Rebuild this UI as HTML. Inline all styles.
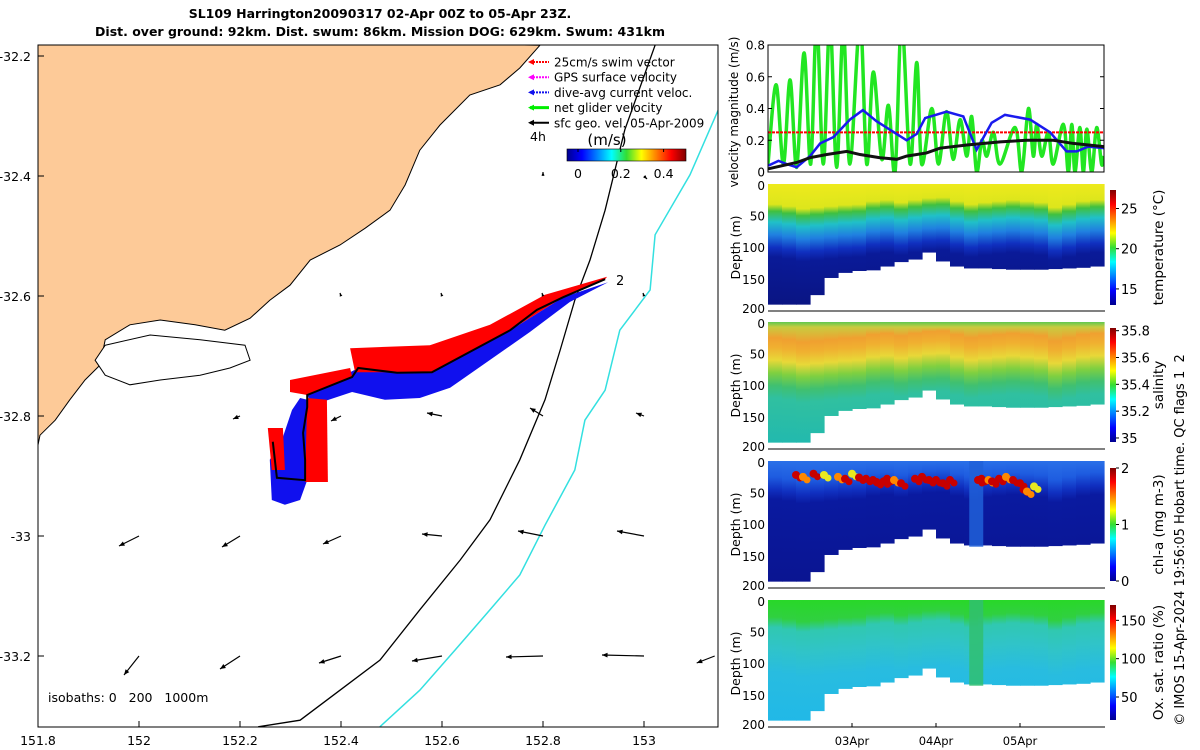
<!DOCTYPE html>
<html><head><meta charset="utf-8"><style>
body{margin:0;background:#fff;}
svg{display:block;font-family:"DejaVu Sans","Liberation Sans",sans-serif;}
</style></head><body>
<svg id="fig" width="1200" height="750" viewBox="0 0 1200 750" xmlns="http://www.w3.org/2000/svg">
<defs>
<linearGradient id="jet" x1="0" y1="1" x2="0" y2="0">
<stop offset="0" stop-color="#00008f"/><stop offset="0.125" stop-color="#0000ff"/><stop offset="0.375" stop-color="#00ffff"/><stop offset="0.5" stop-color="#33dd33"/><stop offset="0.625" stop-color="#ffff00"/><stop offset="0.875" stop-color="#ff0000"/><stop offset="1" stop-color="#800000"/>
</linearGradient>
<linearGradient id="jeth" x1="0" y1="0" x2="1" y2="0">
<stop offset="0" stop-color="#00008f"/><stop offset="0.125" stop-color="#0000ff"/><stop offset="0.375" stop-color="#00ffff"/><stop offset="0.5" stop-color="#33dd33"/><stop offset="0.625" stop-color="#ffff00"/><stop offset="0.875" stop-color="#ff0000"/><stop offset="1" stop-color="#800000"/>
</linearGradient>
<clipPath id="mapclip"><rect x="38" y="45" width="680" height="682"/></clipPath>
<clipPath id="velclip"><rect x="768" y="45" width="336" height="127"/></clipPath>
</defs>
<text x="380" y="18" text-anchor="middle" font-size="12.5" font-weight="bold">SL109 Harrington20090317 02-Apr 00Z to 05-Apr 23Z.</text>
<text x="380" y="36" text-anchor="middle" font-size="12.5" font-weight="bold">Dist. over ground: 92km. Dist. swum: 86km. Mission DOG: 629km. Swum: 431km</text>
<g id="map"></g>
<g id="vel"></g>
<g id="sections"></g>
<text transform="translate(1184,540) rotate(-90)" text-anchor="middle" font-size="13" style="white-space:pre">© IMOS 15-Apr-2024 19:56:05 Hobart time. QC flags 1  2</text>
</svg>
<script>
// ---------- map data ----------
const coastLon=[152.794,152.754,152.715,152.655,152.596,152.556,152.527,152.497,152.448,152.398,152.339,152.299,152.259,152.220,152.170,152.111,152.042,151.982,151.933,151.923,151.893,151.863,151.834,151.804,151.79,151.79];
const coastLat=[-32.182,-32.220,-32.248,-32.265,-32.315,-32.357,-32.415,-32.457,-32.487,-32.515,-32.540,-32.582,-32.607,-32.637,-32.657,-32.648,-32.640,-32.648,-32.673,-32.715,-32.740,-32.773,-32.807,-32.832,-32.89,-32.17];
const estLon=[151.933,152.022,152.121,152.210,152.220,152.180,152.121,152.042,151.982,151.933,151.913];
const estLat=[-32.682,-32.665,-32.673,-32.682,-32.707,-32.720,-32.732,-32.740,-32.748,-32.732,-32.707];
const iso200Lon=[153.022,152.962,152.923,152.893,152.863,152.834,152.804,152.754,152.695,152.636,152.556,152.477,152.398,152.319,152.236];
const iso200Lat=[-32.182,-32.323,-32.457,-32.540,-32.607,-32.690,-32.773,-32.873,-32.973,-33.040,-33.123,-33.207,-33.257,-33.307,-33.318];
const iso1000Lon=[153.147,153.091,153.022,153.012,152.952,152.923,152.883,152.863,152.804,152.754,152.695,152.626,152.556,152.477];
const iso1000Lat=[-32.29,-32.398,-32.498,-32.59,-32.657,-32.757,-32.807,-32.89,-32.982,-33.065,-33.123,-33.19,-33.257,-33.318];
const trackLon=[152.923,152.840,152.788,152.735,152.580,152.511,152.434,152.422,152.333,152.333,152.325,152.329,152.329,152.273,152.265];
const trackLat=[-32.572,-32.602,-32.623,-32.657,-32.727,-32.728,-32.720,-32.735,-32.765,-32.785,-32.828,-32.873,-32.907,-32.903,-32.843];
const blueA_lon=[152.929,152.840,152.735,152.580,152.434,152.333,152.343,152.422,152.487,152.556,152.616,152.774,152.853];
const blueA_lat=[-32.577,-32.602,-32.657,-32.727,-32.720,-32.765,-32.782,-32.760,-32.773,-32.770,-32.753,-32.660,-32.610];
const blueB_lon=[152.319,152.333,152.333,152.319,152.289,152.263,152.259,152.283,152.303];
const blueB_lat=[-32.770,-32.773,-32.907,-32.940,-32.948,-32.940,-32.873,-32.840,-32.790];
const redA_lon=[152.927,152.804,152.695,152.576,152.418,152.428,152.580,152.735,152.840,152.923];
const redA_lat=[-32.568,-32.598,-32.648,-32.682,-32.687,-32.727,-32.727,-32.657,-32.602,-32.572];
const redB_lon=[152.299,152.418,152.422,152.333,152.299];
const redB_lat=[-32.740,-32.720,-32.735,-32.765,-32.760];
const redC_lon=[152.333,152.372,152.374,152.329];
const redC_lat=[-32.770,-32.773,-32.910,-32.910];
const redD_lon=[152.255,152.285,152.289,152.263];
const redD_lat=[-32.820,-32.820,-32.890,-32.890];
// surface geostrophic velocity vectors (m/s)
const vecLon=[152.0,152.2,152.4,152.6,152.8,153.0,153.14, 152.0,152.2,152.4,152.6,152.8,153.0, 152.2,152.4,152.6,152.8,153.0, 152.4,152.6,152.8,153.0, 152.8,153.0];
const vecLat=[-33.2,-33.2,-33.2,-33.2,-33.2,-33.2,-33.2, -33.0,-33.0,-33.0,-33.0,-33.0,-33.0, -32.8,-32.8,-32.8,-32.8,-32.8, -32.6,-32.6,-32.6,-32.6, -32.4,-32.4];
const vecU=[-0.15,-0.20,-0.22,-0.30,-0.37,-0.42,-0.18, -0.20,-0.18,-0.18,-0.20,-0.25,-0.27, -0.07,-0.10,-0.15,-0.13,-0.08, -0.01,-0.01,-0.01,-0.01, 0.0,0.03];
const vecV=[-0.19,-0.13,-0.07,-0.05,-0.01,0.01,-0.07, -0.10,-0.11,-0.08,0.02,0.05,0.05, -0.03,-0.05,0.03,0.08,0.03, 0.03,0.03,0.03,0.03, 0.04,-0.03];
const lonTicks=[151.8,152,152.2,152.4,152.6,152.8,153];
const latTicks=[-32.2,-32.4,-32.6,-32.8,-33,-33.2];
// ---------- velocity panel data ----------
const greenH=[0,2.3,4.4,6.3,8.2,10.3,12.2,13.9,15.8,17.7,19.6,21.5,23.4,26.3,28.2,30.1,32.5,34.4,36.3,38.2,40.6,42.5,43.9,46.8,48.7,51,52.9,54.9,56.8,58.2,59.6,61.1,62.5,64.4,66.3,70.6,72.5,74.4,75.8,76.8,78.2,80.1,81.5,84.4,85.8,86.8,87.7,89.1,90.1,91.1,92.5,93.9,95.3,96];
const greenV=[0.05,0.55,0.05,0.58,0.03,0.75,0.05,0.95,0.05,0.95,0.03,0.9,0.05,0.95,0.05,0.63,0.08,0.42,0.0,0.95,0.05,0.69,0.05,0.40,0.05,0.38,0.08,0.33,0.10,0.35,0.0,0.20,0.10,0.25,0.05,0.28,0.0,0.40,0.10,0.30,0.10,0.25,0.05,0.30,0.0,0.30,0.0,0.28,0.0,0.27,0.0,0.28,0.05,0.10];
const blueH=[0.1,3.0,5.3,8.2,12.0,14.9,18.7,23.4,27.1,31.0,39.6,42.5,44.9,51.0,55.8,59.6,63.9,67.7,74.9,80.6,85.3,88.2,91.5,96];
const blueV=[0.04,0.07,0.05,0.03,0.10,0.18,0.22,0.33,0.39,0.32,0.20,0.24,0.34,0.38,0.35,0.14,0.31,0.36,0.33,0.25,0.13,0.13,0.16,0.15];
const blackH=[0.1,8.2,12,16.8,22.5,26.3,32,36.8,39.6,45.3,49.1,56.8,66.3,73.9,81.5,87.2,96];
const blackV=[0.02,0.06,0.09,0.11,0.13,0.11,0.09,0.08,0.10,0.12,0.15,0.17,0.19,0.20,0.20,0.18,0.16];
const swimSpeed=0.25;
const velTicks=[0,0.2,0.4,0.6,0.8];
// ---------- section data ----------
const secH=[0,4,8,12,16,20,24,28,32,36,40,44,48,52,56,60,64,68,72,76,80,84,88,92];
const secBottom=[190,190,190,175,148,140,137,136,130,123,119,108,122,130,133,133,134,135,135,135,134,133,132,130];
const secMld=[35,38,42,40,38,36,35,30,28,32,28,25,24,30,35,32,30,28,30,32,40,35,30,28];
const chlH=[8,10,13,16,20,22,24,26,28,30,31,33,34,36,38,42,44,46,48,50,52,60,61,63,64,66,68,70,72,73,74,76];
const chlD=[22,25,20,22,25,28,20,26,28,30,33,32,28,30,35,28,25,30,30,35,30,30,28,30,32,28,25,30,35,45,48,40];
const chlVal=[2,1.6,2,1.5,1.7,2,1.4,2,2,2,2,2,2,1.8,2,2,2,2,2,2,2,2,2,1.7,2,2,1.6,2,2,2,1.8,1.5];
const dayTicks=[24,48,72];
const dayLabels=['03Apr','04Apr','05Apr'];
const depthTicks=[0,50,100,150,200];
const dayOffset=0;

const NS='http://www.w3.org/2000/svg';
function mk(tag,attrs,parent){const e=document.createElementNS(NS,tag);for(const k in attrs)e.setAttribute(k,attrs[k]);parent.appendChild(e);return e;}
const mx=lon=>38+(lon-151.8)*505;
const my=lat=>56+(-32.2-lat)*600;
function ptsGeo(lo,la){return lo.map((v,i)=>mx(v).toFixed(1)+','+my(la[i]).toFixed(1)).join(' ');}

// ---- map ----
const map=document.getElementById('map');
const mg=mk('g',{'clip-path':'url(#mapclip)'},map);
let p=mk('polygon',{points:ptsGeo(coastLon,coastLat),fill:'#fdca98',stroke:'#000','stroke-width':1},mg);

p=mk('polygon',{points:ptsGeo(estLon,estLat),fill:'#fff',stroke:'#000','stroke-width':1},mg);

p=mk('polyline',{points:ptsGeo(iso200Lon,iso200Lat),fill:'none',stroke:'#000','stroke-width':1.3},mg);

p=mk('polyline',{points:ptsGeo(iso1000Lon,iso1000Lat),fill:'none',stroke:'#33e0e0','stroke-width':1.5},mg);

[[blueA_lon,blueA_lat,'#1010ee','blue-current-swath'],[blueB_lon,blueB_lat,'#1010ee','blue-current-swath-south'],[redA_lon,redA_lat,'#ff0000','red-swim-swath'],[redB_lon,redB_lat,'#ff0000','red-swim-swath-mid'],[redC_lon,redC_lat,'#ff0000','red-swim-swath-east'],[redD_lon,redD_lat,'#ff0000','red-swim-swath-west']].forEach(s=>{
  const e=mk('polygon',{points:ptsGeo(s[0],s[1]),fill:s[2]},mg);
  
  
});
p=mk('polyline',{points:ptsGeo(trackLon,trackLat),fill:'none',stroke:'#000','stroke-width':2},mg);

const vscale=100;
vecLon.forEach((lo,i)=>{
  const x=mx(lo),y=my(vecLat[i]);const x2=x+vecU[i]*vscale,y2=y-vecV[i]*vscale;
  const g=mk('g',{},mg);
  
  
  mk('line',{x1:x,y1:y,x2:x2,y2:y2,stroke:'#000','stroke-width':1.2},g);
  const a=Math.atan2(y2-y,x2-x),L=Math.min(6,Math.hypot(x2-x,y2-y)*0.5+2);
  mk('polygon',{points:`${x2},${y2} ${x2-L*Math.cos(a-0.4)},${y2-L*Math.sin(a-0.4)} ${x2-L*Math.cos(a+0.4)},${y2-L*Math.sin(a+0.4)}`,fill:'#000'},g);
});
mk('rect',{x:38,y:45,width:680,height:682,fill:'none',stroke:'#000','stroke-width':1},map);
lonTicks.forEach(t=>{const x=mx(t);mk('line',{x1:x,y1:727,x2:x,y2:721,stroke:'#000'},map);
  const e=mk('text',{x:x,y:745,'text-anchor':'middle','font-size':12.5},map);e.textContent=String(t);
  });
latTicks.forEach(t=>{const y=my(t);mk('line',{x1:38,y1:y,x2:44,y2:y,stroke:'#000'},map);
  const e=mk('text',{x:31,y:y+5,'text-anchor':'end','font-size':12.5},map);e.textContent=String(t);
  });
let tx=mk('text',{x:616,y:285,'font-size':13},map);tx.textContent='2';

tx=mk('text',{x:48,y:702,'font-size':12.5,style:'white-space:pre'},map);tx.textContent='isobaths: 0   200   1000m';

// legend
const legItems=[['25cm/s swim vector','#ff0000'],['GPS surface velocity','#ff00ff'],['dive-avg current veloc.','#1010ee'],['net glider velocity','#00ee00'],['sfc geo. vel. 05-Apr-2009','#000']];
legItems.forEach((it,i)=>{const y=62+i*15.2;
  const g=mk('g',{},map);
  
  
  mk('line',{x1:530,y1:y,x2:549,y2:y,stroke:it[1],'stroke-width':i==3?3:2,'stroke-dasharray':(i<3?'2 1':'none')},g);
  mk('polygon',{points:`${528},${y} ${534},${y-3} ${534},${y+3}`,fill:it[1]},g);
  const t=mk('text',{x:554,y:y+4.5,'font-size':12},g);t.textContent=it[0];});
tx=mk('text',{x:530,y:141,'font-size':12.5},map);tx.textContent='4h';

tx=mk('text',{x:607,y:145,'font-size':15,'text-anchor':'middle'},map);tx.textContent='(m/s)';

p=mk('rect',{x:567,y:149,width:119,height:12,fill:'url(#jeth)',stroke:'#000','stroke-width':0.6},map);

[[0,'0'],[0.2,'0.2'],[0.4,'0.4']].forEach(c=>{const x=578+c[0]*214;mk('line',{x1:x,y1:149,x2:x,y2:152,stroke:'#000'},map);
  const t=mk('text',{x:x,y:178,'font-size':12.5,'text-anchor':'middle'},map);t.textContent=c[1];});

// ---- velocity panel ----
const vel=document.getElementById('vel');
const vx=h=>768+h*3.5, vyv=v=>172-v/0.8*127;
function smoothPath(H,V){let pts=H.map((h,i)=>[vx(h),vyv(V[i])]);let d='M'+pts[0][0]+','+pts[0][1];
  for(let i=0;i<pts.length-1;i++){const p0=pts[Math.max(0,i-1)],p1=pts[i],p2=pts[i+1],p3=pts[Math.min(pts.length-1,i+2)];
    d+=` C${p1[0]+(p2[0]-p0[0])/6},${p1[1]+(p2[1]-p0[1])/6} ${p2[0]-(p3[0]-p1[0])/6},${p2[1]-(p3[1]-p1[1])/6} ${p2[0]},${p2[1]}`;}
  return d;}
const vg=mk('g',{'clip-path':'url(#velclip)'},vel);
p=mk('path',{d:smoothPath(greenH,greenV),fill:'none',stroke:'#22e622','stroke-width':3.5},vg);

p=mk('line',{x1:vx(0),x2:vx(96),y1:vyv(swimSpeed),y2:vyv(swimSpeed),stroke:'#ff0000','stroke-width':2,'stroke-dasharray':'3 1'},vg);

p=mk('polyline',{points:blueH.map((h,i)=>vx(h)+','+vyv(blueV[i])).join(' '),fill:'none',stroke:'#1a1aee','stroke-width':2.5},vg);

p=mk('polyline',{points:blackH.map((h,i)=>vx(h)+','+vyv(blackV[i])).join(' '),fill:'none',stroke:'#111','stroke-width':3},vg);

mk('rect',{x:768,y:45,width:336,height:127,fill:'none',stroke:'#000'},vel);
velTicks.forEach(t=>{const y=vyv(t);mk('line',{x1:768,y1:y,x2:772,y2:y,stroke:'#000'},vel);mk('line',{x1:1104,y1:y,x2:1100,y2:y,stroke:'#000'},vel);
  const e=mk('text',{x:765,y:y+4.5,'text-anchor':'end','font-size':12},vel);e.textContent=t===0?'0':String(t);
  });
tx=mk('text',{transform:'translate(738,112) rotate(-90)','text-anchor':'middle','font-size':12},vel);tx.textContent='velocity magnitude (m/s)';


// ---- sections ----
const sec=document.getElementById('sections');
const defs=document.querySelector('defs');
const panels=[
 {top:184,name:'temperature',label:'temperature (°C)',cb:[190,305],ticks:[[25,'25'],[20,'20'],[15,'15']],cmin:13,cmax:27.3,
  stops:(m)=>[[0,'#eeea1c'],[m-3,'#dde61c'],[m+8,'#40c040'],[m+25,'#20c0c8'],[m+45,'#2080e0'],[m+65,'#1030c0'],[m+80,'#0a1a98'],[200,'#0a1480']]},
 {top:322,name:'salinity',label:'salinity',cb:[328,442],ticks:[[35.8,'35.8'],[35.6,'35.6'],[35.4,'35.4'],[35.2,'35.2'],[35,'35']],cmin:34.97,cmax:35.82,
  stops:(m)=>[[0,'#60c850'],[8,'#c8cc40'],[m-10,'#f0a030'],[m+5,'#f0b030'],[m+25,'#e8d838'],[m+45,'#80d040'],[m+65,'#40c070'],[m+85,'#30c0a0'],[200,'#20b8b0']]},
 {top:461,name:'chl-a',label:'chl-a (mg m-3)',cb:[468,581],ticks:[[2,'2'],[1,'1'],[0,'0']],cmin:0,cmax:2,
  stops:(m)=>[[0,'#2a70e8'],[m-10,'#1e5ce0'],[m+10,'#1030c0'],[m+25,'#0a1aa0'],[200,'#0a1490']]},
 {top:600,name:'oxygen',label:'Ox. sat. ratio (%)',cb:[605,720],ticks:[[150,'150'],[100,'100'],[50,'50']],cmin:20,cmax:170,
  stops:(m)=>[[0,'#28d828'],[m-8,'#30d040'],[m+8,'#30c8b0'],[m+40,'#30c4c8'],[m+80,'#28bce0'],[200,'#20b8e8']]}
];
const sx=h=>768+(h-dayOffset)*3.5;
panels.forEach((P,pi)=>{
  const sy=d=>P.top+d/200*127;
  const g=mk('g',{},sec);
  
  
  secH.forEach((h,i)=>{
    const gid='g'+pi+'_'+i;
    const lg=mk('linearGradient',{id:gid,gradientUnits:'userSpaceOnUse',x1:0,y1:sy(0),x2:0,y2:sy(200)},defs);
    P.stops(secMld[i]).forEach(s=>mk('stop',{offset:Math.max(0,Math.min(1,s[0]/200)),'stop-color':s[1]},lg));
    const x0=sx(h),x1=i<secH.length-1?sx(secH[i+1]):sx(96);
    const r=mk('rect',{x:x0,y:sy(0),width:x1-x0+0.6,height:sy(secBottom[i])-sy(0),fill:'url(#'+gid+')'},g);
    
    
  });
  if(pi===2||pi===3){ // instrument anomaly band
    const b=mk('rect',{x:sx(57.5),y:sy(0),width:14,height:sy(135)-sy(0),fill:pi===2?'#2060d8':'#30c070',opacity:0.85},g);
    
  }
  if(pi===2){
    chlH.forEach((h,i)=>{
      const col=chlVal[i]>=1.9?'#c80000':(chlVal[i]>=1.6?'#ff8800':'#e8e820');
      const c=mk('circle',{cx:sx(h),cy:sy(chlD[i]),r:4,fill:col},g);
      
      
      const c2=mk('circle',{cx:sx(h)+4,cy:sy(chlD[i])+3,r:3.5,fill:col},g);
      
      
    });
  }
  mk('line',{x1:768,y1:sy(200),x2:1105,y2:sy(200),stroke:'#000'},g);
  depthTicks.forEach(t=>{const e=mk('text',{x:765,y:sy(t)+(t===0?6:t===200?2:4.5),'text-anchor':'end','font-size':12},g);e.textContent=String(t);
    });
  const yl=mk('text',{transform:`translate(740,${sy(100)}) rotate(-90)`,'text-anchor':'middle','font-size':12.5},g);yl.textContent='Depth (m)';
  
  const cb=mk('rect',{x:1110,y:P.cb[0],width:6,height:P.cb[1]-P.cb[0],fill:'url(#jet)'},g);
  
  P.ticks.forEach(t=>{const y=P.cb[1]-(t[0]-P.cmin)/(P.cmax-P.cmin)*(P.cb[1]-P.cb[0]);
    mk('line',{x1:1116,y1:y,x2:1119,y2:y,stroke:'#000'},g);
    const e=mk('text',{x:1121,y:y+5,'font-size':13},g);e.textContent=t[1];});
  const cl=mk('text',{transform:`translate(1163,${(P.cb[0]+P.cb[1])/2}) rotate(-90)`,'text-anchor':'middle','font-size':13.5},g);cl.textContent=P.label;
  
});
dayTicks.forEach((h,i)=>{const x=sx(h);mk('line',{x1:x,y1:727,x2:x,y2:723,stroke:'#000'},sec);
  const e=mk('text',{x:x,y:745,'text-anchor':'middle','font-size':11.5},sec);e.textContent=dayLabels[i];
  });
</script>
</body></html>
